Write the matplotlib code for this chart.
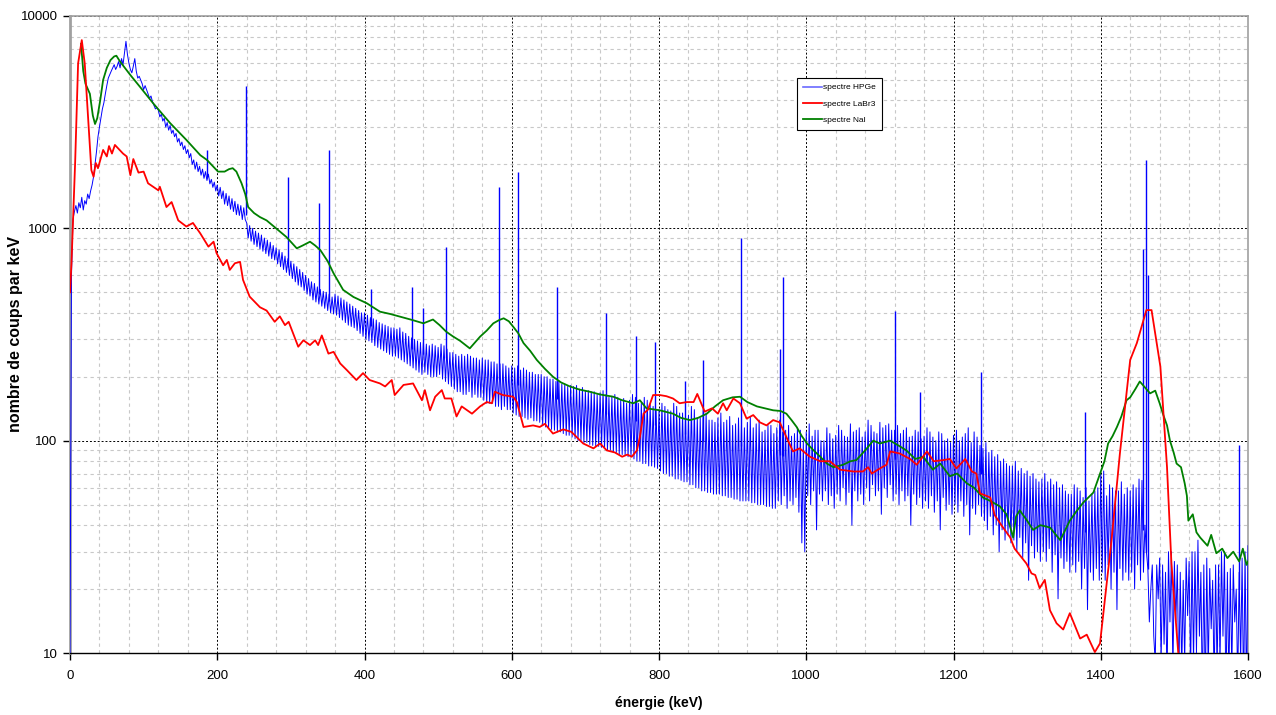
import matplotlib
matplotlib.use('Agg')
import matplotlib.pyplot as plt
import numpy as np
from matplotlib.ticker import FixedLocator, FuncFormatter, MultipleLocator

plt.rcParams['font.family'] = ['Liberation Sans', 'DejaVu Sans']

# HPGe spectrum, one value every 2 keV (0 .. 1600 keV), one row = 40 keV
hpge_vals = [
    10, 600, 1100, 1200, 1280, 1180, 1320, 1250, 1400, 1220, 1350, 1300, 1450, 1380, 1500, 1600, 1750, 2000, 2300, 2700,
    3000, 3300, 3650, 3900, 4300, 4700, 5100, 5300, 5500, 5700, 5900, 5600, 5800, 6100, 5700, 6300, 5900, 6700, 7600, 6600,
    6000, 5600, 5400, 5800, 6300, 5500, 5100, 5200, 5000, 4800, 4500, 4700, 4500, 4300, 4100, 4200, 3950, 3800, 3650, 3700,
    3600, 3350, 3450, 3200, 3300, 3000, 3150, 2900, 3050, 2800, 2900, 2700, 2800, 2550, 2650, 2450, 2550, 2350, 2450, 2250,
    2350, 2150, 2250, 2000, 2100, 1900, 2050, 1850, 1960, 1780, 1900, 1720, 1850, 1680, 1800, 1620, 1700, 1560, 1650, 1500,
    1600, 1420, 1560, 1380, 1500, 1300, 1460, 1280, 1420, 1230, 1380, 1200, 1340, 1160, 1300, 1150, 1280, 1100, 1250, 1100,
    1060, 900, 1030, 870, 1000, 840, 970, 820, 950, 800, 930, 780, 900, 760, 880, 740, 860, 720, 830, 710,
    810, 680, 790, 660, 770, 640, 740, 620, 720, 600, 700, 580, 680, 560, 660, 540, 640, 530, 620, 510,
    600, 490, 580, 480, 560, 460, 550, 450, 530, 440, 515, 430, 505, 420, 500, 410, 490, 400, 475, 395,
    490, 390, 480, 380, 470, 370, 460, 360, 450, 350, 440, 345, 430, 340, 420, 330, 410, 320, 400, 310,
    400, 300, 390, 295, 380, 290, 375, 280, 370, 275, 360, 270, 355, 265, 350, 260, 345, 255, 340, 250,
    340, 250, 335, 245, 340, 240, 325, 235, 320, 230, 310, 225, 305, 220, 300, 215, 295, 210, 290, 205,
    290, 210, 285, 205, 280, 200, 285, 200, 280, 200, 275, 205, 285, 195, 280, 190, 270, 185, 260, 180,
    260, 175, 255, 170, 250, 170, 255, 165, 250, 165, 255, 170, 250, 160, 245, 165, 245, 160, 240, 160,
    245, 155, 240, 150, 240, 150, 235, 150, 235, 145, 230, 145, 230, 140, 230, 145, 225, 140, 220, 140,
    225, 135, 220, 132, 225, 130, 215, 130, 220, 128, 215, 126, 210, 128, 210, 124, 205, 124, 205, 122,
    205, 118, 200, 116, 200, 115, 195, 113, 195, 112, 190, 110, 190, 110, 185, 108, 185, 106, 180, 106,
    182, 104, 180, 102, 182, 100, 175, 100, 178, 98, 172, 98, 172, 96, 170, 95, 170, 94, 165, 94,
    168, 93, 172, 92, 165, 90, 160, 90, 162, 88, 165, 88, 160, 86, 155, 86, 158, 85, 150, 84,
    155, 84, 165, 82, 160, 80, 150, 80, 150, 78, 160, 78, 155, 76, 148, 76, 145, 75, 140, 74,
    140, 72, 150, 70, 145, 70, 140, 68, 138, 68, 150, 66, 145, 66, 135, 65, 135, 64, 130, 64,
    132, 62, 145, 62, 140, 60, 128, 60, 128, 58, 140, 58, 135, 57, 125, 57, 125, 56, 122, 56,
    128, 56, 135, 55, 122, 55, 125, 54, 130, 54, 118, 53, 120, 53, 128, 52, 118, 52, 115, 52,
    122, 52, 130, 51, 115, 51, 120, 50, 125, 50, 110, 50, 112, 49, 118, 49, 118, 48, 108, 48,
    115, 52, 125, 50, 110, 55, 112, 48, 118, 52, 105, 50, 108, 54, 115, 46, 112, 33, 100, 30,
    110, 55, 120, 50, 105, 58, 112, 38, 112, 56, 100, 52, 100, 58, 115, 50, 108, 55, 102, 48,
    106, 56, 118, 52, 112, 60, 105, 50, 104, 57, 120, 40, 110, 58, 112, 52, 115, 56, 104, 50,
    110, 60, 125, 52, 118, 62, 110, 55, 108, 58, 122, 45, 115, 60, 118, 54, 120, 62, 112, 52,
    112, 56, 118, 50, 108, 58, 112, 52, 115, 55, 104, 40, 105, 56, 112, 50, 110, 54, 102, 48,
    105, 52, 115, 48, 110, 55, 104, 46, 100, 52, 110, 38, 108, 54, 100, 47, 102, 50, 98, 45,
    106, 50, 112, 46, 100, 52, 104, 44, 108, 50, 115, 36, 98, 48, 110, 45, 104, 50, 95, 44,
    92, 42, 98, 38, 88, 44, 90, 36, 84, 40, 86, 30, 80, 38, 82, 34, 78, 36, 76, 33,
    76, 34, 80, 30, 72, 35, 74, 28, 70, 33, 72, 22, 68, 32, 70, 28, 66, 30, 64, 27,
    66, 30, 70, 27, 64, 31, 66, 24, 62, 29, 64, 18, 60, 28, 62, 25, 58, 27, 56, 24,
    56, 26, 62, 24, 60, 27, 58, 20, 54, 25, 60, 16, 52, 24, 56, 22, 58, 25, 60, 22,
    70, 24, 72, 22, 55, 26, 62, 20, 60, 24, 58, 16, 58, 25, 64, 22, 56, 24, 60, 22,
    58, 24, 62, 20, 60, 26, 66, 22, 65, 24, 40, 30, 25, 14, 20, 26, 12, 9, 26, 18,
    28, 9, 26, 11, 24, 7, 30, 14, 30, 8, 27, 14, 26, 7, 24, 8, 22, 9, 28, 15,
    27, 8, 30, 9, 30, 10, 34, 12, 24, 6, 26, 6, 28, 8, 25, 13, 22, 7, 26, 8,
    26, 9, 30, 12, 30, 6, 24, 7, 25, 8, 26, 14, 20, 7, 24, 9, 28, 6, 30, 6,
    32,
]
hpge_e = np.arange(0, 1601, 2)

# HPGe gamma lines: energy, top, foot
peak_e = [186, 239, 296, 338, 352, 409, 464, 479, 511, 583, 609, 662, 728, 769,
          795, 835, 860, 911, 964, 969, 1120, 1155, 1238, 1378, 1458, 1461, 1464, 1588]
peak_h = [2340, 4700, 1740, 1320, 2350, 520, 530, 420, 820, 1570, 1850, 530, 400, 310,
          290, 190, 240, 900, 270, 590, 410, 170, 210, 137, 800, 2100, 600, 95]
peak_base = [1750, 1150, 660, 490, 455, 345, 270, 255, 245, 196, 182, 157, 134, 124,
             118, 107, 100, 94, 86, 85, 82, 78, 70, 37, 38, 30, 25, 20]

# LaBr3 spectrum
labr_e = [0, 2, 7, 11, 16, 20, 25, 29, 32, 35, 38, 45, 50, 53, 57, 61, 72, 77, 82, 86,
          93, 100, 106, 114, 120, 122, 131, 138, 147, 158, 167, 177, 188, 195, 199, 208,
          213, 217, 224, 231, 235, 244, 258, 267, 278, 285, 292, 297, 310, 317, 326, 333,
          337, 342, 351, 358, 367, 376, 389, 398, 407, 421, 428, 437, 441, 453, 466, 478,
          482, 489, 496, 505, 509, 518, 525, 532, 546, 557, 566, 573, 577, 588, 602, 607,
          616, 629, 638, 645, 656, 670, 681, 697, 711, 720, 729, 740, 750, 757, 763, 770,
          774, 779, 785, 792, 801, 810, 819, 828, 838, 847, 852, 862, 872, 880, 887, 892,
          901, 910, 919, 928, 937, 946, 955, 964, 973, 982, 991, 1005, 1019, 1032, 1046,
          1064, 1077, 1084, 1089, 1100, 1109, 1114, 1127, 1141, 1150, 1164, 1173, 1186,
          1195, 1204, 1216, 1225, 1231, 1236, 1250, 1256, 1265, 1277, 1283, 1299, 1306,
          1311, 1317, 1324, 1331, 1340, 1349, 1358, 1372, 1381, 1392, 1399, 1406, 1415,
          1426, 1440, 1449, 1462, 1469, 1481, 1490, 1496, 1505, 1510, 1600]
labr_vals = [500, 684, 2050, 5980, 7700, 5980, 3130, 1880, 1750, 2030, 1920, 2340, 2180,
             2440, 2250, 2470, 2250, 2180, 1780, 2120, 1830, 1850, 1630, 1560, 1510, 1570,
             1260, 1330, 1090, 1020, 1060, 946, 820, 865, 765, 670, 710, 637, 685, 695,
             572, 477, 425, 410, 363, 385, 350, 363, 277, 297, 282, 297, 282, 313, 257,
             262, 231, 215, 193, 208, 193, 186, 180, 193, 164, 183, 186, 155, 173, 139,
             161, 173, 158, 158, 130, 145, 134, 145, 152, 150, 170, 164, 161, 152, 116,
             118, 116, 120, 108, 113, 110, 97, 92, 97, 90, 88, 84, 86, 84, 90, 104, 134,
             140, 164, 164, 162, 158, 150, 152, 152, 166, 137, 142, 134, 150, 139, 158,
             150, 127, 132, 122, 118, 125, 122, 104, 89, 92, 84, 80, 80, 73, 71.6, 71.6,
             75, 70, 74, 77, 89, 87, 82, 77, 89, 80, 81, 82, 74, 82, 71.6, 70, 56.5, 54,
             44.6, 40, 35, 31, 26.4, 23.7, 23.3, 20.2, 22.1, 15.9, 13.8, 12.9, 15.4, 11.7,
             12.2, 10.1, 11.1, 18.4, 35, 87, 240, 288, 412, 412, 223, 75, 26.4, 10.3, 7, 7]

# NaI spectrum
nai_e = [15, 18, 21, 27, 31, 34, 37, 41, 45, 50, 55, 60, 63, 68, 77, 82, 95, 113, 136,
         158, 177, 186, 201, 210, 216, 221, 226, 233, 238, 242, 250, 258, 267, 280, 294,
         308, 316, 326, 333, 340, 350, 358, 371, 385, 403, 421, 435, 448, 465, 480, 493,
         502, 511, 520, 530, 543, 550, 557, 566, 575, 583, 589, 596, 602, 609, 616, 625,
         634, 645, 656, 667, 679, 692, 706, 720, 738, 750, 765, 774, 783, 801, 819, 830,
         842, 853, 865, 876, 887, 900, 910, 920, 933, 944, 955, 965, 973, 980, 987, 994,
         1001, 1010, 1019, 1028, 1037, 1050, 1060, 1068, 1080, 1091, 1100, 1114, 1125,
         1136, 1148, 1159, 1172, 1182, 1195, 1205, 1218, 1228, 1240, 1250, 1263, 1272,
         1281, 1285, 1290, 1300, 1308, 1318, 1331, 1345, 1358, 1366, 1376, 1390, 1401,
         1405, 1410, 1416, 1422, 1428, 1435, 1440, 1447, 1453, 1460, 1467, 1474, 1480,
         1485, 1490, 1494, 1499, 1503, 1509, 1514, 1517, 1519, 1525, 1530, 1535, 1545,
         1550, 1557, 1565, 1572, 1580, 1588, 1593, 1598, 1600]
nai_vals = [7400, 5500, 4800, 4300, 3400, 3100, 3300, 4000, 5000, 5700, 6200, 6450, 6500,
            6100, 5550, 5270, 4640, 3880, 3130, 2610, 2210, 2100, 1850, 1850, 1900, 1920,
            1850, 1630, 1450, 1260, 1180, 1130, 1090, 1000, 910, 805, 830, 865, 830, 790,
            700, 614, 513, 475, 444, 405, 395, 384, 370, 357, 372, 350, 326, 310, 295, 272,
            290, 309, 330, 357, 370, 377, 365, 344, 320, 288, 265, 240, 218, 200, 188, 180,
            174, 170, 165, 161, 155, 150, 155, 142, 139, 134, 128, 125, 128, 134, 145, 155,
            160, 161, 152, 145, 142, 139, 138, 134, 125, 116, 105, 97, 90, 84, 78, 75, 77,
            80, 81, 90, 100, 97, 100, 95, 90, 82, 84, 73, 78, 68, 70, 63, 60, 54, 52, 49,
            45, 35, 44, 47, 42, 38, 40, 39, 34, 42, 46, 51, 57, 73, 80, 97, 105, 116, 130,
            155, 160, 175, 190, 178, 167, 172, 150, 132, 118, 100, 88, 78, 75, 63, 55, 42,
            45, 37, 35, 32, 36, 29.5, 31, 28, 30, 27, 31, 26, 27]

x_ticks = [0, 200, 400, 600, 800, 1000, 1200, 1400, 1600]
y_ticks = [10, 100, 1000, 10000]


def main():
    fig = plt.figure(figsize=(12.76, 7.15), dpi=100)
    ax = fig.add_axes([70 / 1276, 1 - 653 / 715, 1178 / 1276, 637 / 715])

    ax.plot(hpge_e, hpge_vals, color='#0000ff', lw=0.7, label='spectre HPGe', zorder=3)
    ax.vlines(peak_e, peak_base, peak_h, color='#0000ff', lw=1.0, zorder=3)
    ax.plot(nai_e, nai_vals, color='#008000', lw=1.3, label='spectre NaI', zorder=4)
    ax.plot(labr_e, labr_vals, color='#ff0000', lw=1.3, label='spectre LaBr3', zorder=4)

    ax.set_yscale('log')
    ax.set_xlim(0, 1600)
    ax.set_ylim(10, 10000)

    ax.xaxis.set_major_locator(FixedLocator(x_ticks))
    ax.xaxis.set_minor_locator(MultipleLocator(40))
    ax.yaxis.set_major_locator(FixedLocator(y_ticks))
    ax.yaxis.set_major_formatter(FuncFormatter(lambda v, p: f'{int(v)}'))
    ax.yaxis.set_minor_formatter(FuncFormatter(lambda v, p: ''))

    ax.grid(which='major', color='black', linestyle=(0, (2, 2)), lw=0.7)
    ax.grid(which='minor', color='#c8c8c8', linestyle=(0, (3, 3)), lw=0.8)
    ax.set_axisbelow(True)

    ax.tick_params(which='major', direction='out', length=5, width=1, labelsize=9.5, pad=4)
    ax.tick_params(axis='x', pad=7)
    ax.tick_params(which='minor', length=0)

    for side in ['top', 'right']:
        ax.spines[side].set_color('#a0a0a0')
        ax.spines[side].set_linewidth(1.2)
    ax.spines['left'].set_color('#a0a0a0')
    ax.spines['left'].set_linewidth(2)
    ax.spines['bottom'].set_color('black')
    ax.spines['bottom'].set_linewidth(1)

    ax.set_xlabel('énergie (keV)', fontsize=10, fontweight='bold', labelpad=10)
    ax.set_ylabel('nombre de coups par keV', fontsize=11.5, fontweight='bold')
    ax.yaxis.set_label_coords(-0.040, 0.5)

    # legend order as in the reference
    handles, labels = ax.get_legend_handles_labels()
    order = [0, 2, 1]
    leg = ax.legend([handles[i] for i in order], [labels[i] for i in order],
                    loc='upper left', bbox_to_anchor=(0.617, 0.903), fontsize=6,
                    fancybox=False, framealpha=1, edgecolor='black',
                    handlelength=2.3, handletextpad=0.2, labelspacing=1.0,
                    borderpad=0.7, borderaxespad=0)
    leg.get_frame().set_linewidth(0.8)
    leg.get_lines()[0].set_color('#6a6aff')
    leg.get_lines()[0].set_linewidth(1.2)

    fig.savefig('out.png', dpi=100)


if __name__ == '__main__':
    assert len(hpge_vals) == len(hpge_e)
    assert len(labr_e) == len(labr_vals)
    assert len(nai_e) == len(nai_vals)
    assert len(peak_e) == len(peak_h) == len(peak_base)
    main()
